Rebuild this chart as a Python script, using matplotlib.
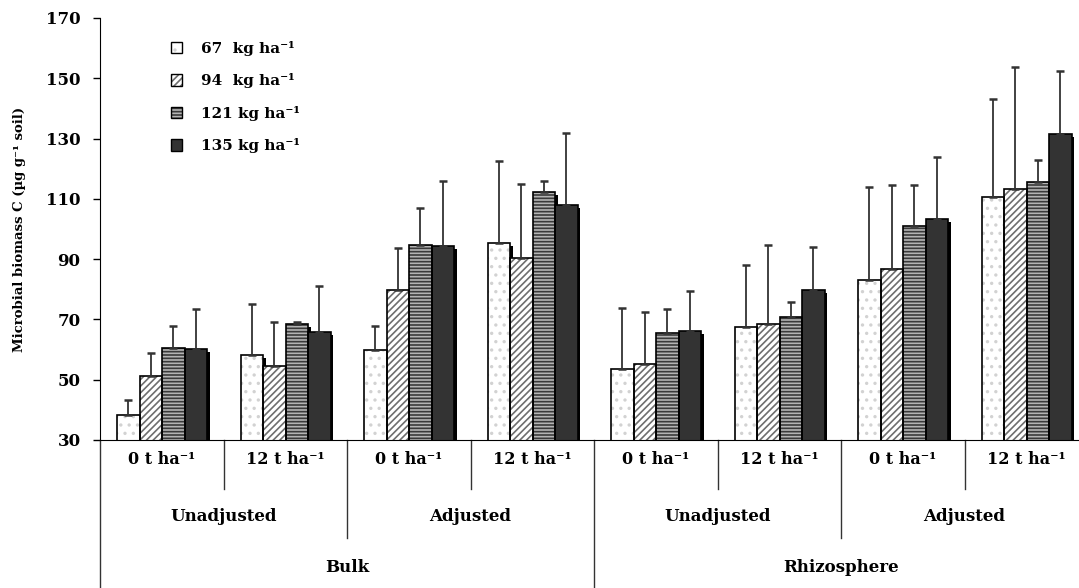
import matplotlib

matplotlib.use("Agg")
import matplotlib.pyplot as plt
import numpy as np
from matplotlib.patches import Patch

plt.rcParams["font.family"] = "DejaVu Serif"
plt.rcParams["font.weight"] = "bold"
plt.rcParams["hatch.linewidth"] = 1.2

# ---- data ----
groups = ["0 t ha\u207b\u00b9", "12 t ha\u207b\u00b9"] * 4
mid_labels = ["Unadjusted", "Adjusted", "Unadjusted", "Adjusted"]
top_labels = ["Bulk", "Rhizosphere"]
series_labels = ["67  kg ha\u207b\u00b9", "94  kg ha\u207b\u00b9",
                 "121 kg ha\u207b\u00b9", "135 kg ha\u207b\u00b9"]

s67 = [38.3, 58.2, 59.9, 95.3, 53.6, 67.6, 83.0, 110.7]
s94 = [51.2, 54.7, 79.8, 90.5, 55.1, 68.4, 86.8, 113.2]
s121 = [60.6, 68.5, 94.7, 112.4, 65.4, 70.8, 101.0, 115.5]
s135 = [60.2, 65.7, 94.4, 108.0, 66.2, 79.8, 103.2, 131.4]

sd67 = [5.0, 16.9, 8.0, 27.3, 20.3, 20.5, 31.0, 32.3]
sd94 = [7.8, 14.6, 13.8, 24.3, 17.3, 26.3, 27.9, 40.7]
sd121 = [7.3, 0.6, 12.2, 3.5, 8.1, 5.1, 13.7, 7.5]
sd135 = [13.3, 15.3, 21.5, 24.0, 13.2, 14.1, 20.8, 20.9]

means = [s67, s94, s121, s135]
sds = [sd67, sd94, sd121, sd135]

# fill, hatch, hatch colour per series
styles = [
    ("white", "..", "#d2d2d2"),
    ("white", "/////", "#6e6e6e"),
    ("#b4b4b4", "-----", "#3a3a3a"),
    ("#333333", "", "#333333"),
]

fig = plt.figure(figsize=(10.79, 5.88), dpi=100)
ax = fig.add_axes([100 / 1079, 1 - 440 / 588, 988 / 1079, 422 / 588])

n = len(groups)
x0 = np.arange(n)
width = 22.5 / 123.5
start = 17 / 123.5

for j, (vals, err) in enumerate(zip(means, sds)):
    xs = x0 + start + width * (j + 0.5)
    vals = np.array(vals)
    face, hatch, hcol = styles[j]
    # drop shadow
    ax.bar(xs + 0.024, vals - 1.0, width, color="black", zorder=1)
    ax.bar(xs, vals, width, color=face, hatch=hatch, edgecolor=hcol,
           linewidth=0, zorder=2)
    ax.bar(xs, vals, width, facecolor="none", edgecolor="black",
           linewidth=1.2, zorder=3)
    ax.errorbar(xs, vals, yerr=[np.zeros(n), err], fmt="none",
                ecolor="#333333", elinewidth=1.3, capsize=3, capthick=1.8,
                zorder=4)

ax.set_xlim(0, n)
ax.set_ylim(30, 170)
ax.set_yticks(np.arange(30, 171, 20))
ax.set_xticks([])
ax.tick_params(axis="y", direction="out", length=5, width=1, labelsize=12,
               pad=9)
for t in ax.get_yticklabels():
    t.set_fontweight("bold")
ax.spines["top"].set_visible(False)
ax.spines["right"].set_visible(False)
ax.set_ylabel("Microbial biomass C (\u00b5g g\u207b\u00b9 soil)", fontsize=9.5,
              fontweight="bold", labelpad=14)

# hierarchical category axis
tr = ax.get_xaxis_transform()
line_kw = dict(color="#333333", linewidth=1, clip_on=False, transform=tr)
ax.plot([0, 0], [0, -0.351], **line_kw)
for i in range(1, n):
    if i % 4 == 0:
        bottom = -0.351
    elif i % 2 == 0:
        bottom = -0.232
    else:
        bottom = -0.116
    ax.plot([i, i], [0, bottom], **line_kw)

for i, lab in enumerate(groups):
    ax.text(i + 0.5, -0.047, lab, transform=tr, ha="center", va="center",
            fontsize=11.5, fontweight="bold")
for k, lab in enumerate(mid_labels):
    ax.text(2 * k + 1, -0.182, lab, transform=tr, ha="center", va="center",
            fontsize=12, fontweight="bold")
for k, lab in enumerate(top_labels):
    ax.text(4 * k + 2, -0.301, lab, transform=tr, ha="center", va="center",
            fontsize=12, fontweight="bold")

handles = []
for face, hatch, hcol in styles:
    handles.append((Patch(facecolor=face, hatch=hatch, edgecolor=hcol, linewidth=0),
                    Patch(facecolor="none", edgecolor="black", linewidth=1)))
ax.legend(handles, series_labels, loc="upper left",
          bbox_to_anchor=(171 / 1079, 1 - 41 / 588),
          bbox_transform=fig.transFigure, frameon=False, borderpad=0,
          borderaxespad=0, handlelength=0.75, handleheight=0.75,
          handletextpad=1.2, labelspacing=1.14,
          prop={"family": "DejaVu Serif", "weight": "bold", "size": 11})

fig.savefig("out.png", dpi=100)
